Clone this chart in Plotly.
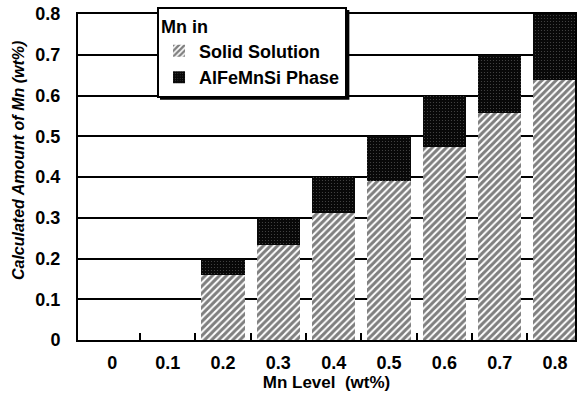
import plotly.graph_objects as go

# Mn level of each alloy (wt%) and how the Mn splits between the two sites
mn_levels = ["0", "0.1", "0.2", "0.3", "0.4", "0.5", "0.6", "0.7", "0.8"]
solid_solution = [0, 0, 0.16, 0.234, 0.312, 0.39, 0.474, 0.557, 0.638]
alfemnsi_phase = [0, 0, 0.04, 0.066, 0.088, 0.11, 0.126, 0.143, 0.162]

positions = list(range(len(mn_levels)))
font_family = "Liberation Sans, Arial, Helvetica, sans-serif"

fig = go.Figure()
fig.add_trace(go.Bar(
    x=positions, y=solid_solution, name="Solid Solution", width=0.78,
    marker=dict(color="white", line=dict(width=0),
                pattern=dict(shape="/", fgcolor="black", bgcolor="white",
                             size=5, solidity=0.6)),
))
fig.add_trace(go.Bar(
    x=positions, y=alfemnsi_phase, name="AlFeMnSi Phase", width=0.78,
    marker=dict(color="#080808", line=dict(width=0),
                pattern=dict(shape=".", fgcolor="#8a8a8a", bgcolor="#080808",
                             size=3, solidity=0.12)),
))

# drop shadow behind the legend box
fig.add_shape(type="rect", xref="paper", yref="paper", layer="above",
              x0=0.165, x1=0.546, y0=0.737, y1=1.012,
              fillcolor="black", line=dict(width=0))

fig.update_layout(
    width=578, height=394,
    barmode="stack",
    paper_bgcolor="white", plot_bgcolor="white",
    margin=dict(l=78, r=3, t=14, b=54, autoexpand=False),
    font=dict(family=font_family, color="black"),
    showlegend=True,
    legend=dict(
        title=dict(text="Mn in", font=dict(size=18, weight="bold")),
        font=dict(size=18, weight="bold"),
        traceorder="normal",
        x=0.159, y=1.021, xanchor="left", yanchor="top",
        bgcolor="white", bordercolor="black", borderwidth=2,
        itemwidth=30, tracegroupgap=0,
    ),
    annotations=[dict(
        text="Calculated Amount of Mn (wt%)", textangle=-90,
        xref="paper", yref="paper", x=-0.12, y=0.55,
        xanchor="center", yanchor="middle", showarrow=False,
        font=dict(size=16, weight="bold", style="italic"),
    )],
)

fig.update_xaxes(
    range=[-0.62, 8.36],
    tickmode="array", tickvals=positions, ticktext=mn_levels,
    ticks="", ticklabelstandoff=5,
    tickfont=dict(size=18, weight="bold"),
    minor=dict(tickmode="array", tickvals=[p + 0.5 for p in positions[:-1]],
               ticks="inside", ticklen=7, tickwidth=1.5, tickcolor="black"),
    showgrid=False, zeroline=False,
    showline=True, linecolor="black", linewidth=2, mirror=True,
    title=dict(text="Mn Level \u00a0(wt%)", standoff=4,
               font=dict(size=17, weight="bold")),
)

fig.update_yaxes(
    range=[0, 0.8], dtick=0.1, tick0=0,
    tickformat="~g", ticks="", ticklabelstandoff=12,
    tickfont=dict(size=18, weight="bold"),
    showgrid=True, gridcolor="black", gridwidth=1.5,
    zeroline=False,
    showline=True, linecolor="black", linewidth=2, mirror=True,
)

fig.write_html("out.html")
